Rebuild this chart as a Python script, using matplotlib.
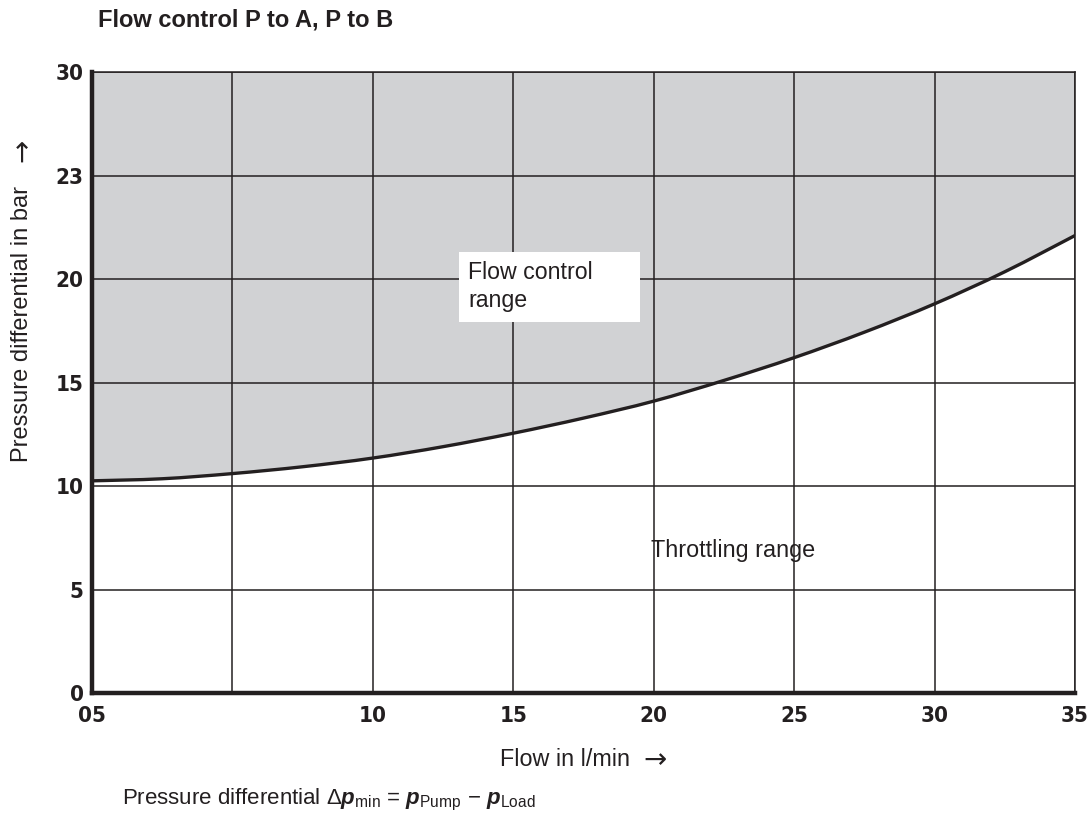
import numpy as np
import matplotlib
matplotlib.use("Agg")
import matplotlib.pyplot as plt
from matplotlib import font_manager
from matplotlib.path import Path
from matplotlib.patches import PathPatch, Rectangle

# ---- data ----
x_tick_labels = ["05", "", "10", "15", "20", "25", "30", "35"]
y_tick_values = [0, 5, 10, 15, 20, 23, 30]          # labels on evenly spaced gridlines
y_tick_labels = ["0", "5", "10", "15", "20", "23", "30"]

# curve: column position (grid index) and pressure in bar
curve_col = [0, 0.5, 1, 1.5, 2, 2.5, 3, 3.5, 4, 4.5, 5, 5.5, 6, 6.5, 7]
curve_bar = [10.25, 10.35, 10.60, 10.93, 11.35, 11.90, 12.55, 13.28, 14.10,
             15.10, 16.20, 17.43, 18.80, 20.21, 21.26]

title = "Flow control P to A, P to B"
xlabel = "Flow in l/min"
ylabel = "Pressure differential in bar"
arrow = "\u2192"
region_upper = "Flow control\nrange"
region_lower = "Throttling range"

# ---- fonts ----
avail = {f.name for f in font_manager.fontManager.ttflist}
if "Liberation Sans Narrow" in avail:
    tick_font = dict(family=["Liberation Sans Narrow", "DejaVu Sans"])
else:
    tick_font = dict(family=["DejaVu Sans"], stretch="condensed")
plt.rcParams["font.family"] = ["Liberation Sans", "DejaVu Sans"]
plt.rcParams["mathtext.fontset"] = "custom"
plt.rcParams["mathtext.rm"] = "Liberation Sans"
plt.rcParams["mathtext.it"] = "Liberation Sans:italic"
plt.rcParams["mathtext.bf"] = "Liberation Sans:bold"
try:
    plt.rcParams["mathtext.bfit"] = "Liberation Sans:italic:bold"
    has_bfit = True
except KeyError:
    has_bfit = False

INK = "#231f20"
fig = plt.figure(figsize=(10.91, 8.18), dpi=100)
ax = fig.add_axes([92/1091, 1 - 693/818, (1075-92)/1091, (693-72)/818])

ypos = np.arange(len(y_tick_values))
xpos = np.arange(len(x_tick_labels))
cy = np.interp(curve_bar, y_tick_values, ypos)
cx = np.array(curve_col, dtype=float)

ax.set_xlim(0, len(xpos) - 1)
ax.set_ylim(0, len(ypos) - 1)

ax.fill_between(cx, cy, len(ypos) - 1, color="#d1d2d4", lw=0, zorder=1)
for xp in xpos:
    ax.axvline(xp, color=INK, lw=1.1, zorder=2)
for yp in ypos:
    ax.axhline(yp, color=INK, lw=1.1, zorder=2)

# smooth curve through the points (Catmull-Rom rendered as cubic Bezier)
pts = np.column_stack([cx, cy])
verts = [pts[0]]
codes = [Path.MOVETO]
n = len(pts)
for i in range(n - 1):
    p0 = pts[i - 1] if i > 0 else pts[i]
    p1 = pts[i]
    p2 = pts[i + 1]
    p3 = pts[i + 2] if i + 2 < n else pts[i + 1]
    c1 = p1 + (p2 - p0) / 6.0
    c2 = p2 - (p3 - p1) / 6.0
    verts += [c1, c2, p2]
    codes += [Path.CURVE4] * 3
ax.add_patch(PathPatch(Path(verts, codes), fc="none", ec=INK, lw=2.4,
                       zorder=4, capstyle="butt"))

for side in ["left", "bottom"]:
    ax.spines[side].set_linewidth(3.2)
    ax.spines[side].set_color(INK)
for side in ["top", "right"]:
    ax.spines[side].set_linewidth(1.1)
    ax.spines[side].set_color(INK)
for sp in ax.spines.values():
    sp.set_zorder(5)

ax.set_xticks(xpos)
ax.set_xticklabels(x_tick_labels)
ax.set_yticks(ypos)
ax.set_yticklabels(y_tick_labels)
ax.tick_params(axis="x", length=0, pad=9)
ax.tick_params(axis="y", length=0, pad=6)
for lab in ax.get_xticklabels() + ax.get_yticklabels():
    lab.set_fontfamily(tick_font["family"])
    if "stretch" in tick_font:
        lab.set_fontstretch(tick_font["stretch"])
    lab.set_fontweight("bold")
    lab.set_fontsize(16)
    lab.set_color(INK)

# white label box in the upper region
ax.add_patch(Rectangle((2.61, 3.584), 3.905 - 2.61, 4.26 - 3.584,
                       fc="white", ec="none", zorder=6))
ax.text(2.678, 4.175, region_upper, fontsize=16.7, color=INK,
        va="top", ha="left", linespacing=1.3, zorder=7)
ax.text(3.98, 1.38, region_lower, fontsize=16.8, color=INK,
        va="center", ha="left", zorder=7)

fig.text(98/1091, 1 - 20/818, title, fontsize=17, fontweight="bold",
         color=INK, ha="left", va="center")

# x label + arrow
fig.text(500/1091, 1 - 760/818, xlabel, fontsize=16.8, color=INK,
         ha="left", va="center")
fig.text(643/1091, 1 - 760/818, arrow, fontsize=20, color=INK,
         family="DejaVu Sans", ha="left", va="center")
# y label + arrow
fig.text(22/1091, 1 - 462/818, ylabel, fontsize=17, color=INK,
         ha="center", va="bottom", rotation=90)
fig.text(22/1091, 1 - 162/818, arrow, fontsize=20, color=INK,
         family="DejaVu Sans", ha="center", va="bottom", rotation=90)

if has_bfit:
    foot = (r"Pressure differential $\Delta\mathbfit{p}_{\mathrm{min}}$ = "
            r"$\mathbfit{p}_{\mathrm{Pump}}$ $-$ $\mathbfit{p}_{\mathrm{Load}}$")
else:
    foot = (r"Pressure differential $\Delta\mathbf{p}_{\mathrm{min}}$ = "
            r"$\mathbf{p}_{\mathrm{Pump}}$ $-$ $\mathbf{p}_{\mathrm{Load}}$")
fig.text(122/1091, 1 - 800/818, foot, fontsize=16, color=INK,
         ha="left", va="center")

fig.savefig("out.png", dpi=100, facecolor="white")
